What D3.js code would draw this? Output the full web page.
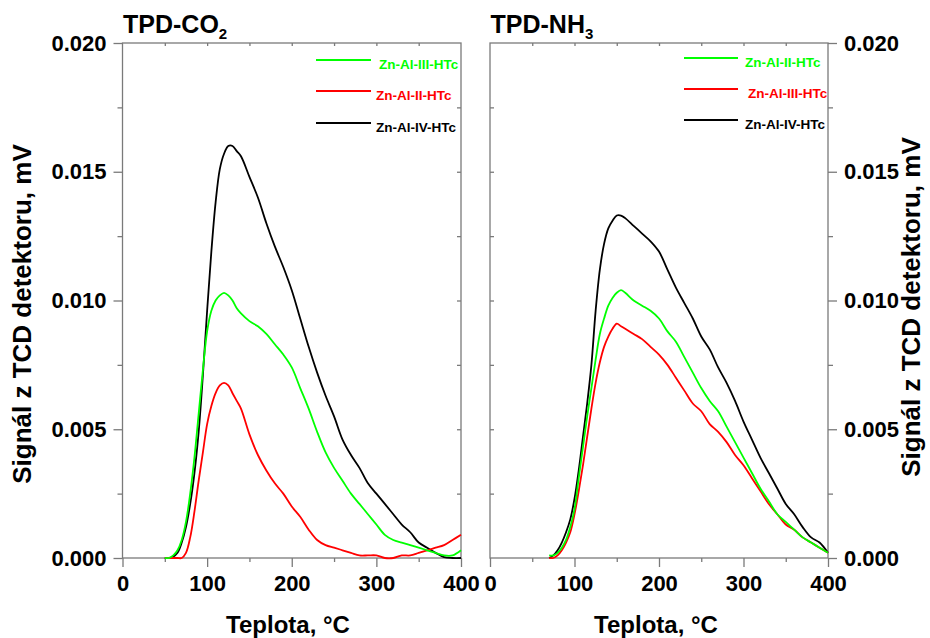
<!DOCTYPE html>
<html>
<head>
<meta charset="utf-8">
<script src="https://cdn.jsdelivr.net/npm/d3@7"></script>
<style>
body { margin: 0; background: #fff; }
svg text { font-family: "Liberation Sans", Arial, sans-serif; font-weight: bold; }
</style>
</head>
<body>
<svg></svg>
<script>
// temperatures (°C) for the TPD-CO2 panel
var tempCO2 = [50, 55, 60, 65, 70, 75, 80, 85, 90, 95, 100, 105, 110, 115, 120, 125, 130, 135, 140,
    150, 160, 170, 180, 190, 200, 210, 220, 230, 240, 250, 260, 270, 280, 290, 300,
    310, 320, 330, 340, 350, 360, 370, 380, 390, 400];
var co2_III = [0, 0, 0.0001, 0.0003, 0.0007, 0.0014, 0.0025, 0.0039, 0.0056, 0.0073, 0.0088, 0.0096, 0.0100, 0.0102, 0.0103, 0.0102, 0.0100, 0.0097, 0.0095,
    0.0092, 0.0090, 0.0087, 0.0083, 0.0079, 0.0074, 0.0066, 0.0058, 0.0049, 0.0041, 0.0035, 0.0030, 0.0025, 0.0021, 0.0017, 0.0013,
    0.0009, 0.0007, 0.0006, 0.0005, 0.0004, 0.0003, 0.0002, 0.0001, 0.0001, 0.0003];
var co2_II = [0, 0, 0, 0, 0, 0.0002, 0.0008, 0.0018, 0.0030, 0.0041, 0.0052, 0.0059, 0.0064, 0.0067, 0.0068, 0.0067, 0.0064, 0.0061, 0.0058,
    0.0048, 0.0040, 0.0034, 0.0029, 0.0025, 0.0020, 0.0016, 0.0011, 0.0007, 0.0005, 0.0004, 0.0003, 0.0002, 0.0001, 0.0001, 0.0001,
    0.0000, 0.0000, 0.0001, 0.0001, 0.0002, 0.0003, 0.0004, 0.0005, 0.0007, 0.0009];
var co2_IV = [0, 0, 0.00005, 0.0002, 0.0006, 0.0012, 0.0021, 0.0033, 0.0049, 0.0071, 0.0096, 0.0119, 0.0138, 0.0151, 0.0157, 0.0160, 0.0160, 0.0158, 0.0156,
    0.0148, 0.0140, 0.0130, 0.0121, 0.0113, 0.0104, 0.0093, 0.0082, 0.0072, 0.0063, 0.0055, 0.0046, 0.0040, 0.0035, 0.0029, 0.0025,
    0.0021, 0.0017, 0.0013, 0.0010, 0.0006, 0.0004, 0.0002, 0.00003, 0, 0];

// temperatures (°C) for the TPD-NH3 panel
var tempNH3 = [70, 75, 80, 85, 90, 95, 100, 105, 110, 115, 120, 125, 130, 135, 140, 145, 150, 155, 160,
    170, 180, 190, 200, 210, 220, 230, 240, 250, 260, 270, 280, 290, 300,
    310, 320, 330, 340, 350, 360, 370, 380, 390, 400];
var nh3_II = [0.0001, 0.0001, 0.0002, 0.0004, 0.0007, 0.0012, 0.0019, 0.0031, 0.0043, 0.0055, 0.0066, 0.0077, 0.0087, 0.0093, 0.0098, 0.0101, 0.0103, 0.0104, 0.0103,
    0.0100, 0.0098, 0.0096, 0.0093, 0.0088, 0.0084, 0.0078, 0.0072, 0.0066, 0.0061, 0.0057, 0.0051, 0.0045, 0.0039,
    0.0033, 0.0027, 0.0022, 0.0017, 0.0014, 0.0011, 0.0008, 0.0006, 0.0004, 0.0002];
var nh3_III = [0, 0, 0.0001, 0.0003, 0.0006, 0.0010, 0.0017, 0.0026, 0.0036, 0.0047, 0.0058, 0.0068, 0.0076, 0.0082, 0.0086, 0.0089, 0.0091, 0.0090, 0.0089,
    0.0087, 0.0085, 0.0082, 0.0079, 0.0075, 0.0070, 0.0065, 0.0060, 0.0057, 0.0052, 0.0049, 0.0045, 0.0040, 0.0036,
    0.0031, 0.0026, 0.0021, 0.0017, 0.0013, 0.0011, 0.0008, 0.0006, 0.0004, 0.0002];
var nh3_IV = [0, 0.0001, 0.0003, 0.0006, 0.0010, 0.0015, 0.0023, 0.0034, 0.0047, 0.0060, 0.0075, 0.0096, 0.0112, 0.0122, 0.0128, 0.0131, 0.0133, 0.0133, 0.0132,
    0.0129, 0.0126, 0.0123, 0.0119, 0.0112, 0.0105, 0.0099, 0.0093, 0.0086, 0.0081, 0.0074, 0.0068, 0.0061, 0.0053,
    0.0046, 0.0039, 0.0033, 0.0027, 0.0021, 0.0017, 0.0012, 0.0008, 0.0006, 0.0002];

var xTicks = [0, 100, 200, 300, 400];
var xMinor = [50, 150, 250, 350];
var yTicks = [0, 0.005, 0.010, 0.015, 0.020];
var yMinor = [0.0025, 0.0075, 0.0125, 0.0175];

var svgWidth = 930, svgHeight = 638;
var top_ = 43, bottom = 558;
var frameColor = "#7a7a7a";

var svg = d3.select('svg')
    .attr("width", svgWidth)
    .attr("height", svgHeight);

var y = d3.scaleLinear().domain([0, 0.020]).range([bottom, top_]);

var panels = [
    {
        left: 122.5, right: 461, side: "left", title: "TPD-CO", sub: "2", temps: tempCO2,
        series: [
            {name: "Zn-Al-III-HTc", values: co2_III, color: "#00ff00", ly: 60, tx: 379},
            {name: "Zn-Al-II-HTc", values: co2_II, color: "#ff0000", ly: 91, tx: 376},
            {name: "Zn-Al-IV-HTc", values: co2_IV, color: "#000000", ly: 123, tx: 376}
        ],
        legX: 316, legW: 55, xTitle: 288
    },
    {
        left: 490, right: 828, side: "right", title: "TPD-NH", sub: "3", temps: tempNH3,
        series: [
            {name: "Zn-Al-II-HTc", values: nh3_II, color: "#00ff00", ly: 58, tx: 745},
            {name: "Zn-Al-III-HTc", values: nh3_III, color: "#ff0000", ly: 89, tx: 748},
            {name: "Zn-Al-IV-HTc", values: nh3_IV, color: "#000000", ly: 120, tx: 745}
        ],
        legX: 684, legW: 54, xTitle: 656
    }
];

panels.forEach(function(p){
    var x = d3.scaleLinear().domain([0, 400]).range([p.left, p.right]);
    var g = svg.append("g");

    // bottom axis: major ticks long, minor short, both outward
    var xMaj = g.append("g").attr("transform", "translate(0," + bottom + ")")
        .call(d3.axisBottom(x).tickValues(xTicks).tickSize(9).tickPadding(8).tickFormat(d3.format("d")));
    g.append("g").attr("transform", "translate(0," + bottom + ")")
        .call(d3.axisBottom(x).tickValues(xMinor).tickSize(4).tickFormat(""));
    // top edge: small inward ticks
    g.append("g").attr("transform", "translate(0," + top_ + ")")
        .call(d3.axisBottom(x).tickValues(xMinor.concat([100, 200, 300])).tickSize(3).tickFormat(""));

    var axisY = p.side == "left" ? d3.axisLeft : d3.axisRight;
    var yPos = p.side == "left" ? p.left : p.right;
    var otherY = p.side == "left" ? p.right : p.left;
    g.append("g").attr("transform", "translate(" + yPos + ",0)")
        .call(axisY(y).tickValues(yTicks).tickSize(9).tickPadding(7).tickFormat(d3.format(".3f")));
    g.append("g").attr("transform", "translate(" + yPos + ",0)")
        .call(axisY(y).tickValues(yMinor).tickSize(5).tickFormat(""));
    g.append("g").attr("transform", "translate(" + otherY + ",0)")
        .call(axisY(y).tickValues(yMinor.concat([0.005, 0.010, 0.015])).tickSize(4).tickFormat(""));

    g.selectAll(".domain").remove();
    g.selectAll(".tick line").attr("stroke", frameColor).attr("stroke-width", 1.3);
    g.selectAll(".tick text").attr("fill", "#000").style("font-size", "22px");
    xMaj.selectAll(".tick text").attr("dy", "0.71em");

    // frame
    g.append("rect")
        .attr("x", p.left).attr("y", top_)
        .attr("width", p.right - p.left).attr("height", bottom - top_)
        .attr("fill", "none").attr("stroke", frameColor).attr("stroke-width", 1.3);

    // curves
    var line = d3.line()
        .x(function(d, i){ return x(p.temps[i]); })
        .y(function(d){ return y(Math.max(0, d)); })
        .curve(d3.curveCatmullRom.alpha(0.5));

    g.selectAll(".curve")
        .data(p.series.slice().reverse())
        .enter()
        .append("path")
        .attr("class", "curve")
        .attr("d", function(s){ return line(s.values); })
        .attr("fill", "none")
        .attr("stroke", function(s){ return s.color; })
        .attr("stroke-width", 1.8)
        .attr("stroke-linejoin", "round");

    // legend
    var leg = g.selectAll(".leg")
        .data(p.series)
        .enter()
        .append("g")
        .attr("class", "leg");
    leg.append("line")
        .attr("x1", p.legX).attr("x2", p.legX + p.legW)
        .attr("y1", function(s){ return s.ly; }).attr("y2", function(s){ return s.ly; })
        .attr("stroke", function(s){ return s.color; })
        .attr("stroke-width", 1.8);
    leg.append("text")
        .attr("x", function(s){ return s.tx; })
        .attr("y", function(s){ return s.ly + 9; })
        .attr("fill", function(s){ return s.color; })
        .style("font-size", "13.5px")
        .text(function(s){ return s.name; });

    // panel title with subscript
    var t = g.append("text")
        .attr("x", p.left + 0.5).attr("y", 33)
        .style("font-size", "25px");
    t.append("tspan").text(p.title);
    t.append("tspan").attr("dy", 6).style("font-size", "15px").text(p.sub);

    // x axis title
    g.append("text")
        .attr("x", p.xTitle).attr("y", 633)
        .attr("text-anchor", "middle")
        .style("font-size", "24px")
        .text("Teplota, °C");
});

// y axis titles
svg.append("text")
    .attr("transform", "translate(31,314) rotate(-90)")
    .attr("text-anchor", "middle")
    .style("font-size", "26px")
    .text("Signál z TCD detektoru, mV");
svg.append("text")
    .attr("transform", "translate(920,307) rotate(-90)")
    .attr("text-anchor", "middle")
    .style("font-size", "26px")
    .text("Signál z TCD detektoru, mV");
</script>
</body>
</html>
